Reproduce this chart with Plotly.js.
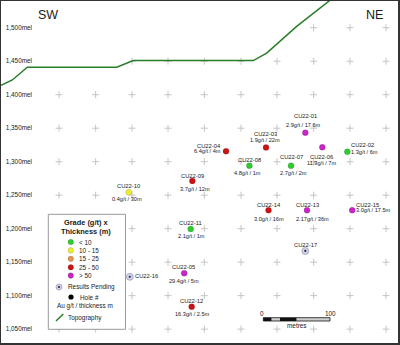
<!DOCTYPE html>
<html><head><meta charset="utf-8">
<script src="https://cdn.plot.ly/plotly-3.0.1.min.js"></script>
<style>html,body{margin:0;padding:0;background:#fff;}#chart{width:400px;height:345px;}</style>
</head><body><div id="chart"></div>
<script>
// ---------------- data ----------------
const holes = ['CU22-01','CU22-02','CU22-03','CU22-04','CU22-05','CU22-06','CU22-07','CU22-08','CU22-09',
               'CU22-10','CU22-11','CU22-12','CU22-13','CU22-14','CU22-15','CU22-16','CU22-17'];
const holeDist = [456.5, 519.5, 397.5, 337.5, 274.8, 482, 435, 372.5, 287, 191.7, 284.5, 286, 459, 401.3, 526.8, 193.2, 456.5];
const holeElev = [1343.3, 1314.9, 1321.2, 1315.5, 1133.5, 1321.5, 1294.0, 1294.0, 1271.2, 1254.5, 1199.5, 1083.5, 1227.6, 1227.6, 1227.6, 1128.2, 1166.7];
const gradeGt = [2.9, 1.3, 1.9, 6.4, 29.4, 11.9, 2.7, 4.8, 3.7, 0.4, 2.1, 16.3, 2.17, 3.0, 3.0, null, null];
const thicknessM = [17.6, 6, 22, 4, 5, 7, 2, 1, 12, 30, 1, 2.5, 36, 16, 17.5, null, null];
const topoDist = [0, 17, 39.5, 173.5, 198.5, 378.5, 398.5, 443.5, 493.5, 520];
const topoElev = [1414, 1422, 1441, 1441, 1451, 1451, 1462, 1502, 1541, 1562];
const elevTicks = [1050, 1100, 1150, 1200, 1250, 1300, 1350, 1400, 1450, 1500];
const elevTickText = ['1,050mel','1,100mel','1,150mel','1,200mel','1,250mel','1,300mel','1,350mel','1,400mel','1,450mel','1,500mel'];
const gridDist = [87, 142, 196.5, 250.5, 305, 360, 414, 469, 523.5, 577.5];
const binEdges = [10, 15, 25, 50];
const binLabels = ['< 10', '10 - 15', '15 - 25', '25 - 50', '> 50'];
const scaleBarM = [0, 12.5, 25, 50, 100];

// ---------------- styles ----------------
const binColors = ['#2ecc2e', '#ecec34', '#e39450', '#cc1414', '#c925c9'];
const FONT = 'Liberation Sans, Arial, sans-serif';
const TXT = '#1a1a1a';
const TOPO = '#2a7d2a';
// label placement [dx, dy(px, down +), anchor]
const namePlace = [[0,-16.5,'center'],[3,-6.4,'left'],[-1,-13.5,'center'],[-4,-5.6,'right'],[-1,-6,'center'],
  [-0.6,9.4,'center'],[0,-9,'center'],[0,-5.7,'center'],[0,-5.3,'center'],[0,-5.9,'center'],[0,-6.3,'center'],
  [0,-5.7,'center'],[0,-5.5,'center'],[0,-5.5,'center'],[2.5,-5.5,'left'],[4.5,-1,'left'],[0,-6.3,'center']];
const valuePlace = [[-1.6,-7.7,'center'],[3,0,'left'],[-1,-7,'center'],[-4,0,'right'],[0,7.8,'center'],
  [-0.6,15.4,'center'],[2,7,'center'],[-1.8,7,'center'],[2.2,8.5,'center'],[-1.6,7.3,'center'],[1,7,'center'],
  [1,7.3,'center'],[5,8.5,'center'],[0,8.5,'center'],[2.5,0,'left'],null,null];

// plot area in pixels
const L = 1, T = 1, PW = 397, PH = 342;
const pX = p => (p - L) / PW;
const pY = p => (T + PH - p) / PH;

function binIndex(v){ let k = 0; while (k < binEdges.length && v >= binEdges[k]) k++; return k; }
function fmtGrade(g){ return Number.isInteger(Math.round(g*100)/10) ? g.toFixed(1) : g.toFixed(2); }
function topoAt(d){
  for (let i = 0; i < topoDist.length - 1; i++){
    if (d >= topoDist[i] && d <= topoDist[i+1]){
      const t = (d - topoDist[i]) / (topoDist[i+1] - topoDist[i]);
      return topoElev[i] + t * (topoElev[i+1] - topoElev[i]);
    }
  }
  return Infinity;
}

// grid crosses below topography
const gx = [], gy = [];
gridDist.forEach(d => elevTicks.forEach(e => { if (e < topoAt(d)) { gx.push(d); gy.push(e); } }));

const graded = [], pending = [];
holes.forEach((h, i) => (gradeGt[i] == null ? pending : graded).push(i));

const traces = [
  {x: gx, y: gy, mode: 'markers', type: 'scatter', hoverinfo: 'skip',
   marker: {symbol: 'cross-thin', size: 5, line: {color: '#c4c4c4', width: 1}}},
  {x: topoDist, y: topoElev, mode: 'lines', type: 'scatter', hoverinfo: 'skip',
   line: {color: TOPO, width: 1.5}},
  {x: graded.map(i => holeDist[i]), y: graded.map(i => holeElev[i]), mode: 'markers', type: 'scatter',
   text: graded.map(i => holes[i]), hoverinfo: 'text',
   marker: {size: 6, color: graded.map(i => binColors[binIndex(gradeGt[i] * thicknessM[i])]),
            line: {color: 'rgba(0,0,0,0.25)', width: 0.5}}},
  {x: pending.map(i => holeDist[i]), y: pending.map(i => holeElev[i]), mode: 'markers', type: 'scatter',
   hoverinfo: 'skip', marker: {size: 7, color: '#d2d2e6', line: {color: '#8a8aa8', width: 0.6}}},
  {x: pending.map(i => holeDist[i]), y: pending.map(i => holeElev[i]), mode: 'markers', type: 'scatter',
   hoverinfo: 'skip', marker: {size: 2.2, color: '#222244'}}
];

const annotations = [];
const lbl = (text, x, y, place, size) => ({text, x, y, xref: 'x', yref: 'y', showarrow: false,
  xshift: place[0], yshift: -place[1], xanchor: place[2], yanchor: 'middle', borderpad: 0,
  font: {family: FONT, size: size, color: TXT}});
holes.forEach((h, i) => {
  annotations.push(lbl(h, holeDist[i], holeElev[i], namePlace[i], 5.8));
  if (gradeGt[i] != null)
    annotations.push(lbl(fmtGrade(gradeGt[i]) + 'g/t / ' + thicknessM[i] + 'm', holeDist[i], holeElev[i], valuePlace[i], 5.6));
});
const pa = (text, x, y, anchor, size, bold) => ({text: bold ? '<b>' + text + '</b>' : text,
  x: pX(x), y: pY(y), xref: 'paper', yref: 'paper', showarrow: false, xanchor: anchor, yanchor: 'middle',
  borderpad: 0, font: {family: FONT, size: size, color: TXT}});
annotations.push(pa('SW', 48.3, 15, 'center', 12.5));
annotations.push(pa('NE', 374.5, 15, 'center', 12.5));

// legend
const shapes = [];
shapes.push({type: 'rect', xref: 'paper', yref: 'paper', x0: pX(48.3), x1: pX(125.5), y0: pY(329.3), y1: pY(214.3),
  fillcolor: '#ffffff', line: {color: '#9a9a9a', width: 1}, layer: 'above'});
annotations.push(pa('Grade (g/t) x', 86, 222.5, 'center', 7.4, true));
annotations.push(pa('Thickness (m)', 86, 231.5, 'center', 7.4, true));
const circ = (cx, cy, r, fill, lc, lw) => ({type: 'circle', xref: 'paper', yref: 'paper',
  x0: pX(cx - r), x1: pX(cx + r), y0: pY(cy + r), y1: pY(cy - r), fillcolor: fill,
  line: {color: lc, width: lw}, layer: 'above'});
const rowY = [242, 250.4, 258.8, 267.2, 275.6];
binLabels.forEach((b, k) => {
  shapes.push(circ(70.8, rowY[k], 2.8, binColors[k], 'rgba(0,0,0,0.25)', 0.5));
  annotations.push(pa(b, 78, rowY[k], 'left', 6.4));
});
shapes.push(circ(59, 287, 3, '#d2d2e6', '#8a8aa8', 0.6));
shapes.push(circ(59, 287, 1.1, '#222244', '#222244', 0));
annotations.push(pa('Results Pending', 66.5, 287, 'left', 6.4));
shapes.push(circ(71, 297, 2.6, '#000000', '#000000', 0));
annotations.push(pa('Hole #', 78.5, 297, 'left', 6.4));
annotations.push(pa('Au g/t / thickness m', 85, 305.8, 'center', 6.4));
shapes.push({type: 'line', xref: 'paper', yref: 'paper', x0: pX(56), y0: pY(321), x1: pX(63.3), y1: pY(314),
  line: {color: TOPO, width: 1.5}, layer: 'above'});
annotations.push(pa('Topography', 66.5, 317.8, 'left', 6.4));

// scale bar (in section metres)
const sbStart = 393.5;
const sbFill = ['#111111', '#cfcfcf', '#111111', '#cfcfcf'];
for (let k = 0; k < scaleBarM.length - 1; k++) {
  shapes.push({type: 'rect', xref: 'x', yref: 'paper', x0: sbStart + scaleBarM[k], x1: sbStart + scaleBarM[k+1],
    y0: pY(321), y1: pY(317.7), fillcolor: sbFill[k], line: {width: 0}, layer: 'above'});
}
shapes.push({type: 'rect', xref: 'x', yref: 'paper', x0: sbStart, x1: sbStart + scaleBarM[scaleBarM.length-1],
  y0: pY(321), y1: pY(317.7), fillcolor: 'rgba(0,0,0,0)', line: {color: '#111', width: 0.8}, layer: 'above'});
const sbl = (text, xm, y) => ({text, x: sbStart + xm, y: pY(y), xref: 'x', yref: 'paper', showarrow: false,
  xanchor: 'center', yanchor: 'middle', borderpad: 0, font: {family: FONT, size: 6.4, color: TXT}});
annotations.push(sbl(String(scaleBarM[0]), scaleBarM[0] - 2.5, 313.8));
annotations.push(sbl(String(scaleBarM[scaleBarM.length-1]), scaleBarM[scaleBarM.length-1], 313.8));
annotations.push(sbl('metres', 50, 325.5));

const layout = {
  width: 400, height: 345, margin: {l: L, r: 400 - L - PW, t: T, b: 345 - T - PH, pad: 0},
  paper_bgcolor: '#ffffff', plot_bgcolor: '#ffffff', showlegend: false,
  xaxis: {range: [0, 595.5], showgrid: false, zeroline: false, showticklabels: false, ticks: '',
          showline: true, mirror: true, linecolor: '#333333', linewidth: 2, automargin: false, fixedrange: true},
  yaxis: {range: [1029.3, 1539.9], tickvals: elevTicks, ticktext: elevTickText, ticklabelposition: 'inside',
          ticks: '', showgrid: false, zeroline: false, showline: true, mirror: true, linecolor: '#333333',
          linewidth: 2, automargin: false, fixedrange: true, ticklabelstandoff: 3,
          tickfont: {family: FONT, size: 6.4, color: TXT}},
  shapes, annotations
};
Plotly.newPlot('chart', traces, layout, {displayModeBar: false, staticPlot: true});
</script></body></html>
